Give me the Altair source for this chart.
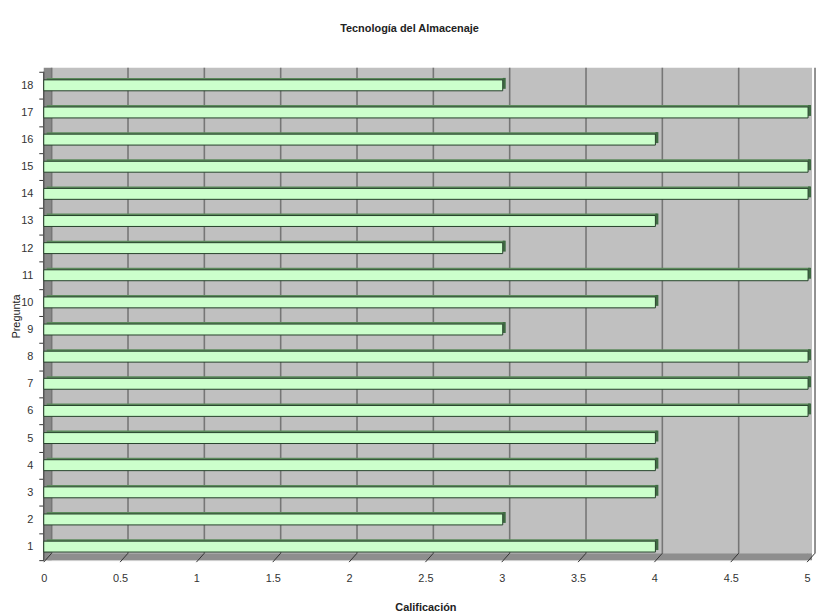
import altair as alt
import pandas as pd

preguntas = list(range(1, 19))
calificacion = [4, 3, 4, 4, 4, 5, 5, 5, 3, 4, 5, 3, 4, 5, 5, 4, 5, 3]
x_ticks = [0, 0.5, 1, 1.5, 2, 2.5, 3, 3.5, 4, 4.5, 5]

W, H = 769, 492
FONT = "Liberation Sans"

df = pd.DataFrame({"Pregunta": preguntas, "Calificacion": calificacion})
ticks_df = pd.DataFrame({"t": x_ticks})
wall_df = pd.DataFrame({"a": [0], "b": [5]})

xs = alt.Scale(domain=[0, 5], nice=False, zero=False)
ys = alt.Scale(paddingInner=0, paddingOuter=0)

xaxis = alt.Axis(values=x_ticks, format="~g", ticks=False, domain=False, grid=False, labelPadding=13,
                 labelFontSize=11, labelColor="#333333", labelFont=FONT,
                 title="Calificación", titleFontSize=11, titleFont=FONT, titleFontWeight="bold",
                 titleColor="#222222", titlePadding=18, labelFlush=False)
yaxis = alt.Axis(ticks=True, tickBand="extent", tickSize=5, tickColor="#333333", domain=False, grid=False,
                 labelPadding=6, labelFontSize=11, labelColor="#333333", labelFont=FONT,
                 labelAngle=0, title="Pregunta", titleFontSize=11, titleFont=FONT,
                 titleFontWeight="normal", titleColor="#222222",
                 titleX=-27, titleY=H / 2, titleAngle=270, titleBaseline="middle", titleAlign="center")

def X(field):
    return alt.X(field, scale=xs, axis=xaxis)

wall = alt.Chart(wall_df).mark_rect(color="#c0c0c0", xOffset=8, x2Offset=5).encode(
    x=X("a:Q"), x2="b:Q", y=alt.value(-4), y2=alt.value(H - 7))
left_wall = alt.Chart(wall_df).mark_rect(color="#8a8a8a", x2Offset=8).encode(
    x=X("a:Q"), x2="a:Q", y=alt.value(-4), y2=alt.value(H))
floor = alt.Chart(wall_df).mark_rect(color="#8e8e8e", xOffset=4, x2Offset=5).encode(
    x=X("a:Q"), x2="b:Q", y=alt.value(H - 7), y2=alt.value(H))

grid = alt.Chart(ticks_df).mark_rule(color="#767676", strokeWidth=1.6, xOffset=8).encode(
    x=X("t:Q"), y=alt.value(-4), y2=alt.value(H - 7))
slant = alt.Chart(ticks_df).mark_rule(color="#333333", strokeWidth=1, x2Offset=8).encode(
    x=X("t:Q"), x2="t:Q", y=alt.value(H + 2), y2=alt.value(H - 7))
front_left = alt.Chart(wall_df).mark_rule(color="#555555", strokeWidth=1.5).encode(
    x=X("a:Q"), y=alt.value(0), y2=alt.value(H))

Y = alt.Y("Pregunta:O", sort="descending", scale=ys, axis=yaxis)

top_face = alt.Chart(df).mark_bar(size=3, color="#5b8a5b", yOffset=-6, xOffset=3, x2Offset=3).encode(
    x=X("Calificacion:Q"), x2=alt.datum(0), y=Y)
front = alt.Chart(df).mark_bar(size=11, fill="#ccffcc", stroke="#25402a", strokeWidth=1, xOffset=1).encode(
    x=X("Calificacion:Q"), x2=alt.datum(0), y=Y)
end_face = alt.Chart(df).mark_bar(size=11, color="#3f6b43", yOffset=-2, xOffset=1, x2Offset=4).encode(
    x=X("Calificacion:Q"), x2="Calificacion:Q", y=Y)

chart = alt.layer(wall, left_wall, floor, grid, front_left, slant, top_face, end_face, front).properties(
    width=W, height=H,
    title=alt.TitleParams("Tecnología del Almacenaje", fontSize=11, font=FONT, fontWeight="bold",
                          color="#222222", anchor="middle", offset=32, dx=-16),
    padding={"left": 36, "top": 62, "right": 10, "bottom": 52},
    autosize=alt.AutoSizeParams(type="none"),
).configure_view(stroke=None).configure(background="white")

chart.save("out.html", embed_options={"renderer": "svg", "actions": False})
